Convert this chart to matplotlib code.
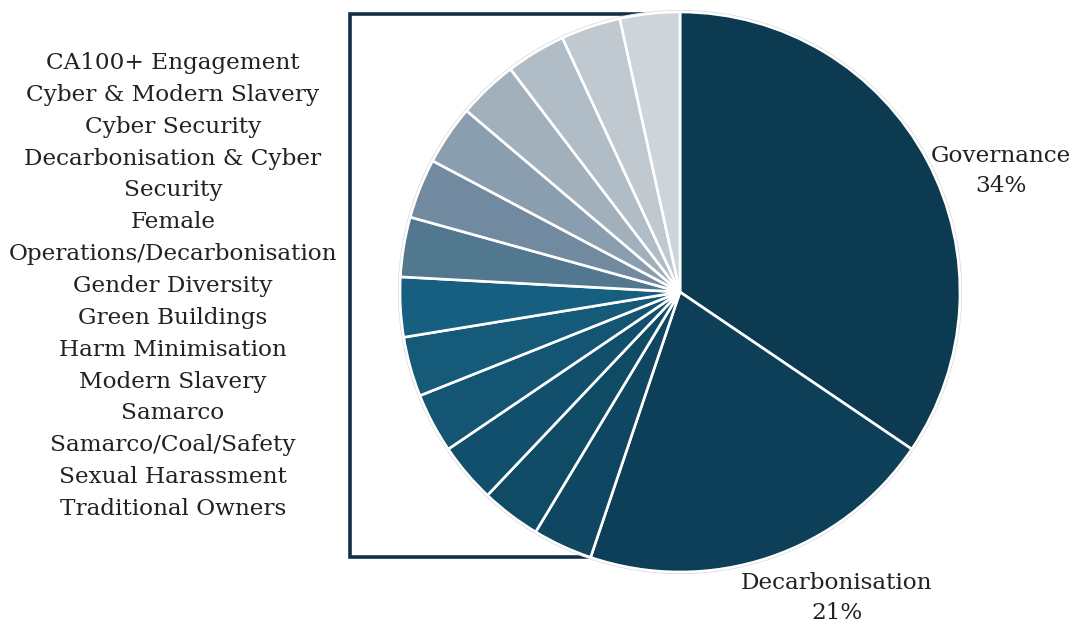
import textwrap
import numpy as np
import matplotlib
matplotlib.use("Agg")
import matplotlib.pyplot as plt
from matplotlib.patches import Circle

# Engagement topics, number of engagements per topic
main_topics = ["Governance", "Decarbonisation"]
main_counts = [10, 6]
other_topics = [
    "CA100+ Engagement",
    "Cyber & Modern Slavery",
    "Cyber Security",
    "Decarbonisation & Cyber Security",
    "Female Operations/Decarbonisation",
    "Gender Diversity",
    "Green Buildings",
    "Harm Minimisation",
    "Modern Slavery",
    "Samarco",
    "Samarco/Coal/Safety",
    "Sexual Harassment",
    "Traditional Owners",
]
other_counts = [1] * len(other_topics)

main_colors = ["#0b3a51", "#0d3f58"]
# drawn clockwise from the bottom of the group up to 12 o'clock
other_colors = ["#0f4661", "#104b66", "#124f6c", "#135573", "#155a79",
                "#175f80", "#52788f", "#718aa0", "#8a9eaf", "#a2b0bc",
                "#b0bcc6", "#c0c8d0", "#cdd4da"]

W, H = 1072, 624
cx, cy, r = 680, H - 292, 280
ink = "#222222"
bracket_color = "#13304a"
fs = 16.7

plt.rcParams["font.family"] = ["DejaVu Serif"]

fig = plt.figure(figsize=(W / 100, H / 100), dpi=100)
ax = fig.add_axes([0, 0, 1, 1])

counts = main_counts + other_counts[::-1]
colors = main_colors + other_colors
wedges, _ = ax.pie(counts, colors=colors, startangle=90, counterclock=False,
                   center=(cx, cy), radius=r,
                   wedgeprops=dict(edgecolor="white", linewidth=1.9))
for w in wedges:
    w.set_zorder(3)

# faint outline round the pie
ax.add_patch(Circle((cx, cy), r + 1.5, facecolor="none",
                    edgecolor="#d9d9d9", linewidth=0.8, zorder=2))

# bracket round the group of small topics
start = wedges[len(main_counts)]
bx = cx + r * np.cos(np.deg2rad(start.theta2))
by = cy + r * np.sin(np.deg2rad(start.theta2))
left_x = 350
ax.plot([cx, left_x, left_x, bx], [cy + r - 2, cy + r - 2, by, by],
        color=bracket_color, linewidth=2.6, solid_joinstyle="miter",
        solid_capstyle="butt", zorder=1)

total = sum(counts)
pcts = [round(100 * c / total) for c in main_counts]
ax.text(1001, H - 171, f"{main_topics[0]}\n{pcts[0]}%", ha="center", va="center",
        fontsize=fs, color=ink, linespacing=1.52)
ax.text(837, H - 598, f"{main_topics[1]}\n{pcts[1]}%", ha="center", va="center",
        fontsize=fs, color=ink, linespacing=1.48)

lines = "\n".join(textwrap.fill(t, 26) for t in other_topics)
ax.text(173, H - 286, lines, ha="center", va="center",
        fontsize=fs, color=ink, linespacing=1.58)

ax.set_xlim(0, W)
ax.set_ylim(0, H)
ax.set_aspect("equal")
ax.axis("off")

fig.savefig("out.png", dpi=100, facecolor="white")
